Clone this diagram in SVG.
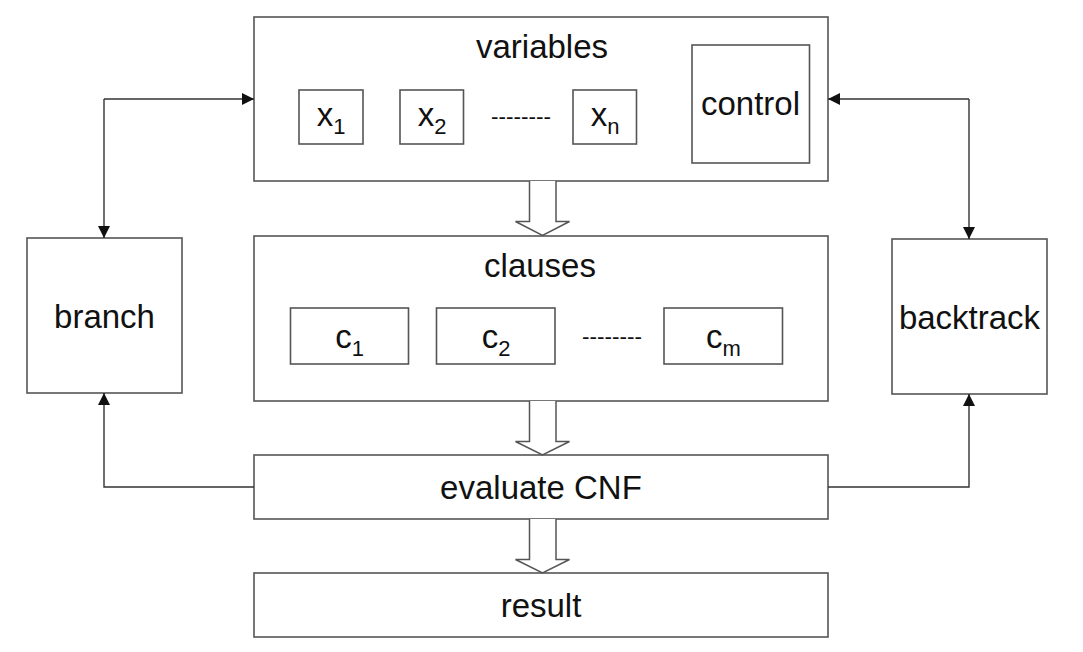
<svg xmlns="http://www.w3.org/2000/svg" width="1083" height="652" viewBox="0 0 1083 652">
<style>
.box{fill:#fff;stroke:#555;stroke-width:1.6}
.lbl{font-family:"Liberation Sans",Arial,Helvetica,sans-serif;font-size:33px;fill:#111;text-anchor:middle}
.sub{font-size:22px}
.dash{font-family:"Liberation Sans",Arial,Helvetica,sans-serif;font-size:22.5px;fill:#111;text-anchor:middle}
.con{fill:none;stroke:#333;stroke-width:1.4}
.hollow{fill:#fff;stroke:#555;stroke-width:1.5}
</style>
<defs>
<marker id="ah" markerUnits="userSpaceOnUse" markerWidth="13" markerHeight="12" refX="12" refY="6" orient="auto">
<path d="M0,0 L12,6 L0,12 z" fill="#111"/>
</marker>
</defs>
<rect width="1083" height="652" fill="#fff"/>
<g id="variables">
<rect class="box" x="254" y="17" width="574" height="164"/>
<text class="lbl" x="542" y="58">variables</text>
</g>
<g id="x1">
<rect class="box" x="299" y="90" width="64" height="54"/>
<text class="lbl" x="331" y="126">x<tspan class="sub" dy="8">1</tspan></text>
</g>
<g id="x2">
<rect class="box" x="400" y="90" width="63.5" height="54"/>
<text class="lbl" x="432" y="126">x<tspan class="sub" dy="8">2</tspan></text>
</g>
<text class="dash" x="521" y="124">--------</text>
<g id="xn">
<rect class="box" x="573" y="90" width="63.5" height="54"/>
<text class="lbl" x="605" y="126">x<tspan class="sub" dy="8">n</tspan></text>
</g>
<g id="control">
<rect class="box" x="692" y="45" width="117.5" height="118"/>
<text class="lbl" x="750.5" y="115">control</text>
</g>
<g id="clauses">
<rect class="box" x="254" y="236" width="574" height="165"/>
<text class="lbl" x="540" y="277">clauses</text>
</g>
<g id="c1">
<rect class="box" x="290.5" y="308" width="118" height="56"/>
<text class="lbl" x="349.5" y="348">c<tspan class="sub" dy="8">1</tspan></text>
</g>
<g id="c2">
<rect class="box" x="436.5" y="308" width="118.5" height="56"/>
<text class="lbl" x="496" y="348">c<tspan class="sub" dy="8">2</tspan></text>
</g>
<text class="dash" x="612" y="344">--------</text>
<g id="cm">
<rect class="box" x="664" y="308" width="118.5" height="56"/>
<text class="lbl" x="723.5" y="348">c<tspan class="sub" dy="8">m</tspan></text>
</g>
<g id="evaluate">
<rect class="box" x="254" y="455" width="574" height="64"/>
<text class="lbl" x="541" y="499">evaluate CNF</text>
</g>
<g id="result">
<rect class="box" x="254" y="573" width="574" height="64"/>
<text class="lbl" x="541" y="617">result</text>
</g>
<g id="branch">
<rect class="box" x="27" y="238" width="155" height="155"/>
<text class="lbl" x="104.5" y="328">branch</text>
</g>
<g id="backtrack">
<rect class="box" x="892" y="239" width="155" height="155"/>
<text class="lbl" x="969.5" y="329">backtrack</text>
</g>
<g id="connectors">
<path class="hollow" d="M529.5,181 V221.5 H515.5 L542.5,235.5 L569.5,221.5 H556 V181"/>
<path class="hollow" d="M529.5,401 V441.5 H515.5 L542.5,455 L569.5,441.5 H556 V401"/>
<path class="hollow" d="M529.5,519 V559.5 H515.5 L542.5,573 L569.5,559.5 H556 V519"/>
<path class="con" d="M104,99 H254" marker-end="url(#ah)"/>
<path class="con" d="M104,99 V238" marker-end="url(#ah)"/>
<path class="con" d="M254,487 H104 V393" marker-end="url(#ah)"/>
<path class="con" d="M969,99 H828" marker-end="url(#ah)"/>
<path class="con" d="M969,99 V239" marker-end="url(#ah)"/>
<path class="con" d="M828,487 H969 V394" marker-end="url(#ah)"/>
</g>
</svg>
